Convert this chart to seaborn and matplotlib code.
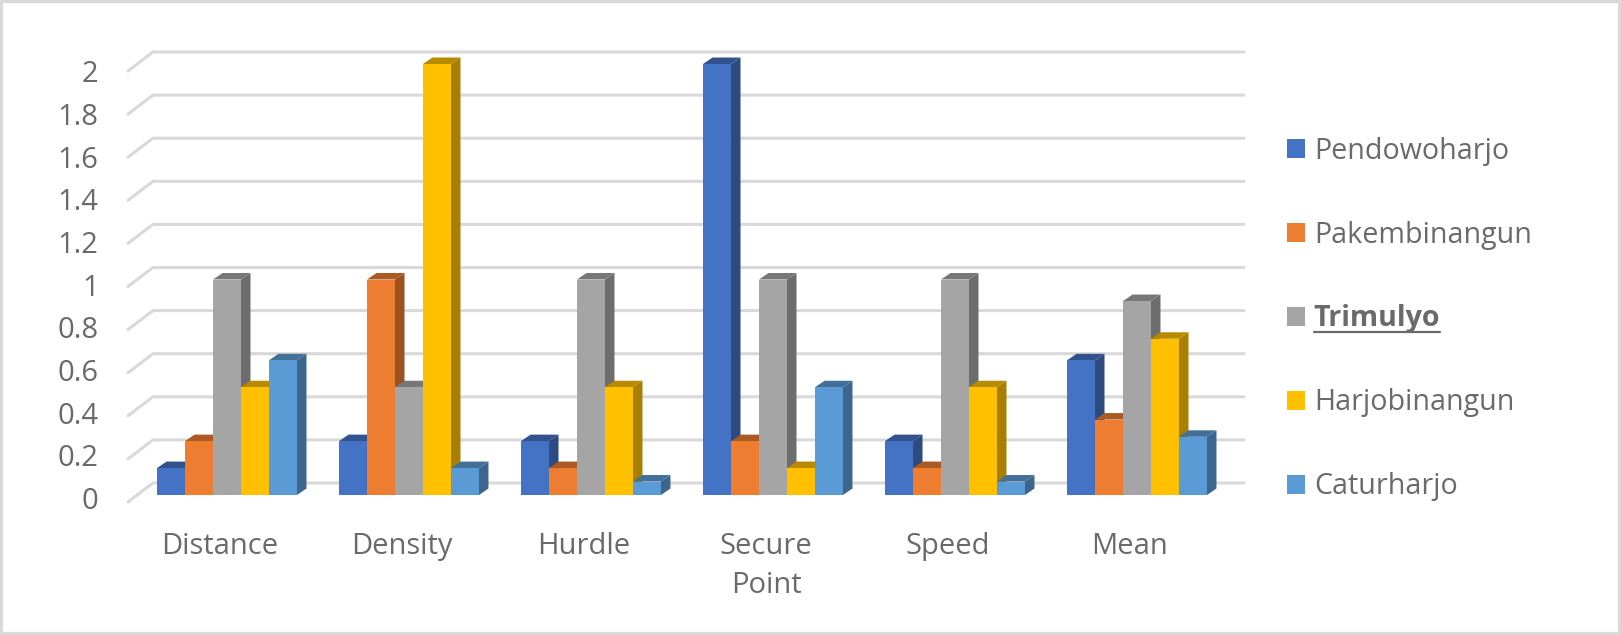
import numpy as np
import pandas as pd
import matplotlib
matplotlib.use("Agg")
import matplotlib.pyplot as plt
import matplotlib.colors as mcolors
import matplotlib.transforms as mtrans
from matplotlib.patches import Polygon, Rectangle
from matplotlib.lines import Line2D
import seaborn as sns

categories = ["Distance", "Density", "Hurdle", "Secure\nPoint", "Speed", "Mean"]
pendowoharjo = [0.125, 0.25, 0.25, 2, 0.25, 0.625]
pakembinangun = [0.25, 1, 0.125, 0.25, 0.125, 0.35]
trimulyo = [1, 0.5, 1, 1, 1, 0.9]
harjobinangun = [0.5, 2, 0.5, 0.125, 0.5, 0.725]
caturharjo = [0.625, 0.125, 0.0625, 0.5, 0.0625, 0.27]
series_names = ["Pendowoharjo", "Pakembinangun", "Trimulyo", "Harjobinangun", "Caturharjo"]
series_colors = ["#4472C4", "#ED7D31", "#A5A5A5", "#FFC000", "#5B9BD5"]
y_ticks = [0, 0.2, 0.4, 0.6, 0.8, 1, 1.2, 1.4, 1.6, 1.8, 2]
y_labels = ["0", "0.2", "0.4", "0.6", "0.8", "1", "1.2", "1.4", "1.6", "1.8", "2"]

df = pd.DataFrame({"cat": categories, "Pendowoharjo": pendowoharjo, "Pakembinangun": pakembinangun,
                   "Trimulyo": trimulyo, "Harjobinangun": harjobinangun, "Caturharjo": caturharjo})
long_df = df.melt(id_vars="cat", var_name="town", value_name="value")

W, H = 1621, 635
TEXT = "#6a6a6a"
GRID = "#d9d9d9"
sns.set_theme(style="white")
plt.rcParams["font.family"] = ["Open Sans", "DejaVu Sans"]

fig = plt.figure(figsize=(W / 100, H / 100), dpi=100, facecolor="white")
fig.add_artist(Rectangle((0, 0), 1, 1, transform=fig.transFigure, fill=False, ec="#d9d9d9", lw=4.5))
ax = fig.add_axes([136 / W, 1 - 495 / H, 1092 / W, 431 / H])
ax.patch.set_alpha(0)

sns.barplot(data=long_df, x="cat", y="value", hue="town", order=categories, hue_order=series_names,
            palette=series_colors, width=0.769, saturation=1, gap=0, ax=ax, legend=False, zorder=5)
ax.set_xlim(-0.5, 5.5)
ax.set_ylim(0, 2)

# pixel sizes turned into data units
px_x = 6 / 1092
px_y = 2 / 431
dx, dy = 9.5 * px_x, 6.5 * px_y


def shade(color, k):
    r, g, b = mcolors.to_rgb(color)
    return (r * k, g * k, b * k)


# back wall grid with the little floor diagonals
for v in y_ticks:
    back = v + 12 * px_y
    front = v - 7 * px_y
    x_back = -0.5 + 17 * px_x
    x_front = -0.5 - 8 * px_x
    x_end = -0.5 + 1108 * px_x
    ax.add_line(Line2D([x_front, x_back, x_end], [front, back, back], color=GRID, lw=2.2,
                       zorder=1, clip_on=False, solid_joinstyle="miter"))

# side and top of every bar, left to right so nearer bars cover them
bars = [(p.get_x(), p.get_height(), p) for p in ax.patches if p.get_width() > 0]
bars.sort(key=lambda b: b[0])
for i, (x0, h, p) in enumerate(bars):
    c = p.get_facecolor()
    x1 = x0 + p.get_width()
    z = 5 + i * 0.1
    ax.add_patch(Polygon([(x1, 0), (x1 + dx, dy), (x1 + dx, h + dy), (x1, h)], closed=True,
                         fc=shade(c, 0.66), ec="none", zorder=z, clip_on=False))
    ax.add_patch(Polygon([(x0, h), (x1, h), (x1 + dx, h + dy), (x0 + dx, h + dy)], closed=True,
                         fc=shade(c, 0.72), ec="none", zorder=z, clip_on=False))
    p.set_zorder(z + 0.05)
    p.set_linewidth(0)
    p.set_clip_on(False)

sns.despine(ax=ax, left=True, bottom=True)
ax.grid(False)
ax.set_xlabel("")
ax.set_ylabel("")
ax.set_xticks(np.arange(6) - 7 * px_x, categories)
ax.set_yticks(y_ticks, y_labels)
ax.tick_params(axis="x", length=0, pad=26.5, labelsize=21, labelcolor=TEXT)
ax.tick_params(axis="y", length=0, pad=27, labelsize=21, labelcolor=TEXT)
for lab in ax.get_xticklabels():
    lab.set_linespacing(1.46)
# labels sit a touch lower than the ticks, more so towards the top
for v, lab in zip(y_ticks, ax.get_yticklabels()):
    shift = mtrans.ScaledTranslation(0, -(3 + 2.2 * v) / 100, fig.dpi_scale_trans)
    lab.set_transform(lab.get_transform() + shift)

# legend
handles = [Rectangle((0, 0), 1, 1, fc=c, ec="none") for c in series_colors]
leg = fig.legend(handles, series_names, loc="center left", bbox_to_anchor=(1261.5 / W, 1 - 319 / H),
                 frameon=False, fontsize=20.6, labelcolor=TEXT, handlelength=0.63, handleheight=0.63,
                 handletextpad=0.3, labelspacing=1.92)
tri = leg.get_texts()[2]
tri.set_fontweight("bold")

fig.canvas.draw()
bb = tri.get_window_extent()
fig.add_artist(Line2D([bb.x0 / W, bb.x1 / W], [(bb.y0 + 1) / H, (bb.y0 + 1) / H], color=TEXT, lw=1.6))

fig.savefig("out.png", dpi=100)
